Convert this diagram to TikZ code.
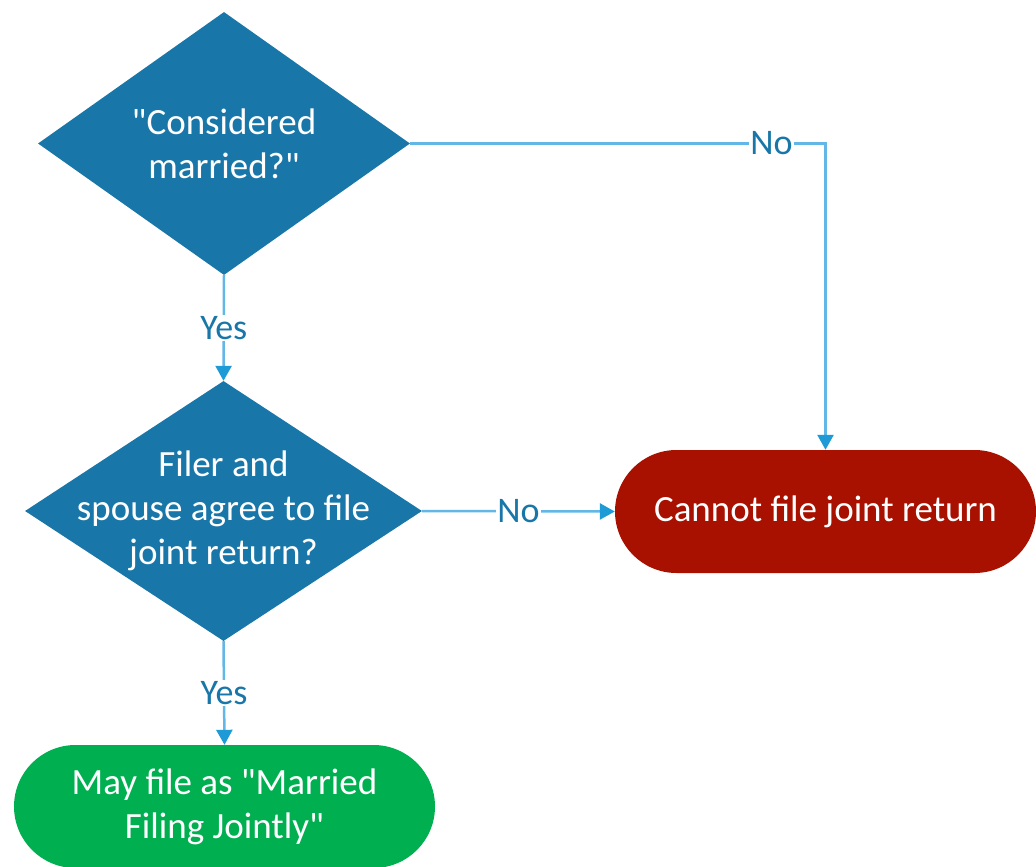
\documentclass[tikz,border=0pt]{standalone}
\usepackage{fontspec}
\setmainfont{Carlito}[Ligatures=TeXOff]
\usetikzlibrary{shapes.geometric,shapes.misc,arrows.meta,positioning}
\definecolor{decblue}{HTML}{1877A8}
\definecolor{stopred}{HTML}{A81000}
\definecolor{okgreen}{HTML}{00B050}
\definecolor{linkblue}{HTML}{62B7E6}
\definecolor{tipblue}{HTML}{1E9BD7}
\begin{document}
\begin{tikzpicture}[x=1pt,y=-1pt,
        decision/.style={diamond,fill=decblue,text=white,inner sep=-60pt,align=center,
          font=\fontsize{37}{44}\selectfont},
        outcome/.style={rounded rectangle,text=white,inner sep=0pt,align=center,
          minimum width=421pt,minimum height=123pt,font=\fontsize{37}{44}\selectfont},
        flow/.style={draw=linkblue,line width=2.5pt,
          -{Triangle[width=16pt,length=15pt,color=tipblue]}},
        answer/.style={fill=white,text=decblue,inner sep=1pt,font=\fontsize{36}{40}\selectfont}]
        \useasboundingbox (0,0) rectangle (1036,867);

        \node [decision,minimum width=372pt,minimum height=263pt] (married) at (224,143.5)
          {"Considered\\married?"};
        \node [decision,minimum width=397pt,minimum height=260pt] (agree) at (223.5,511)
          {Filer and\\spouse agree to file\\joint return?};
        \node [outcome,fill=stopred] (cannot) at (825.5,511.5) {Cannot file joint return};
        \node [outcome,fill=okgreen] (mayfile) at (224.5,806.5)
          {May file as "Married\\Filing Jointly"};

        \draw [flow] (married.east) -| node [answer,pos=0.435] {No} (cannot.north);
        \draw [flow] (married.south) -- node [answer] {Yes} (agree.north);
        \draw [flow] (agree.east) -- node [answer] {No} (cannot.west);
        \draw [flow] (agree.south) -- node [answer] {Yes} (mayfile.north);
    \end{tikzpicture}
\end{document}
